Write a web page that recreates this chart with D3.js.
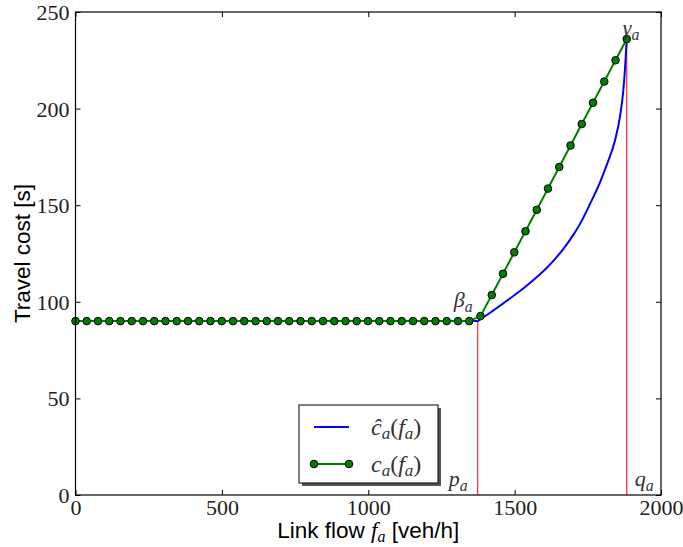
<!DOCTYPE html>
<html>
<head>
<meta charset="utf-8">
<script src="https://cdn.jsdelivr.net/npm/d3@7"></script>
<style>
  html, body { margin: 0; padding: 0; background: #fff; }
  svg { display: block; }
  .tick text { font-family: "Liberation Serif", "DejaVu Serif", serif; font-size: 22px; fill: #222; }
  .axis-title { font-family: "Liberation Sans", Arial, sans-serif; font-size: 22.5px; fill: #000; }
  .math { font-family: "Liberation Serif", "DejaVu Serif", serif; font-style: italic; fill: #333; }
</style>
</head>
<body>
<svg id="chart" width="683" height="547"></svg>
<script>
// Link flow samples (veh/h) where the piecewise-linear cost c_a is evaluated
const flowSamples = [
  0, 38.4, 76.9, 115.3, 153.7, 192.1, 230.6, 269.0, 307.4, 345.9,
  384.3, 422.7, 461.1, 499.6, 538.0, 576.4, 614.9, 653.3, 691.7, 730.1,
  768.6, 807.0, 845.4, 883.9, 922.3, 960.7, 999.1, 1037.6, 1076.0, 1114.4,
  1152.9, 1191.3, 1229.7, 1268.1, 1306.6, 1345.0, 1383.4, 1421.9, 1460.3, 1498.7,
  1537.1, 1575.6, 1614.0, 1652.4, 1690.9, 1729.3, 1767.7, 1806.1, 1844.6, 1883.0
];
// c_a(f_a): travel cost (s) at those flows
const costLinear = [
  90, 90, 90, 90, 90, 90, 90, 90, 90, 90,
  90, 90, 90, 90, 90, 90, 90, 90, 90, 90,
  90, 90, 90, 90, 90, 90, 90, 90, 90, 90,
  90, 90, 90, 90, 90, 90, 92.6, 103.5, 114.5, 125.6,
  136.5, 147.6, 158.6, 169.8, 180.9, 192.0, 203.0, 214.0, 225.0, 236.0
];
// ĉ_a(f_a): constant up to p_a, then a convex rise to q_a
const smoothFlow = [0, 1374, 1420, 1461, 1500, 1541, 1580, 1610, 1640, 1666,
                    1700, 1723, 1757, 1792, 1815, 1843, 1860, 1871, 1877, 1883];
const smoothCost = [90, 90, 94.7, 99.2, 103.5, 108.3, 113.3, 117.6, 122.5, 127.3,
                    134.5, 140.2, 150.5, 162.0, 171.0, 183.6, 196.0, 209.0, 220.5, 236];
// Breakpoints p_a and q_a
const pFlow = 1374, pCost = 90;
const qFlow = 1883, qCost = 236;
const xTicks = [0, 500, 1000, 1500, 2000];
const yTicks = [0, 50, 100, 150, 200, 250];

const svg = d3.select("#chart");
const plotL = 75.5, plotR = 661, plotT = 12, plotB = 495;
const x = d3.scaleLinear().domain([0, 2000]).range([plotL, plotR]);
const y = d3.scaleLinear().domain([0, 250]).range([plotB, plotT]);

// ticks on all four sides, pointing inward
const tickLen = 5;
const gx = svg.append("g").attr("transform", `translate(0,${plotB})`)
  .call(d3.axisBottom(x).tickValues(xTicks).tickFormat(d3.format("d"))
    .tickSizeInner(-tickLen).tickSizeOuter(0).tickPadding(4));
const gy = svg.append("g").attr("transform", `translate(${plotL},0)`)
  .call(d3.axisLeft(y).tickValues(yTicks).tickFormat(d3.format("d"))
    .tickSizeInner(-tickLen).tickSizeOuter(0).tickPadding(6));
const gxt = svg.append("g").attr("transform", `translate(0,${plotT})`)
  .call(d3.axisTop(x).tickValues(xTicks).tickFormat("").tickSizeInner(-tickLen).tickSizeOuter(0));
const gyr = svg.append("g").attr("transform", `translate(${plotR},0)`)
  .call(d3.axisRight(y).tickValues(yTicks).tickFormat("").tickSizeInner(-tickLen).tickSizeOuter(0));
[gx, gy, gxt, gyr].forEach(g => {
  g.select(".domain").remove();
  g.selectAll(".tick line").attr("stroke", "#000").attr("stroke-width", 1);
});
gx.selectAll(".tick text").attr("dy", "0.72em");
gy.selectAll(".tick text").attr("dy", "0.34em");

// red guides at p_a and q_a
svg.append("line").attr("x1", x(pFlow)).attr("x2", x(pFlow))
  .attr("y1", y(0)).attr("y2", y(pCost)).attr("stroke", "#ff0000").attr("stroke-width", 1);
svg.append("line").attr("x1", x(qFlow)).attr("x2", x(qFlow))
  .attr("y1", y(0)).attr("y2", y(qCost)).attr("stroke", "#ff0000").attr("stroke-width", 1);

// smooth cost curve: straight constant part, then a monotone curve from p_a onward
const smoothData = smoothFlow.map((f, i) => [f, smoothCost[i]]);
const flatPart = smoothData.filter(d => d[0] <= pFlow);
const risePart = smoothData.filter(d => d[0] >= pFlow);
svg.append("path").datum(flatPart)
  .attr("fill", "none").attr("stroke", "#0000ff").attr("stroke-width", 2)
  .attr("d", d3.line().x(d => x(d[0])).y(d => y(d[1])));
svg.append("path").datum(risePart)
  .attr("fill", "none").attr("stroke", "#0000ff").attr("stroke-width", 2)
  .attr("d", d3.line().x(d => x(d[0])).y(d => y(d[1])).curve(d3.curveMonotoneX));

// piecewise-linear cost with markers
const linData = flowSamples.map((f, i) => [f, costLinear[i]]);
svg.append("path").datum(linData)
  .attr("fill", "none").attr("stroke", "#008000").attr("stroke-width", 2)
  .attr("d", d3.line().x(d => x(d[0])).y(d => y(d[1])));
svg.append("g").selectAll("circle").data(linData).join("circle")
  .attr("cx", d => x(d[0])).attr("cy", d => y(d[1])).attr("r", 3.8)
  .attr("fill", "#008000").attr("stroke", "#000").attr("stroke-width", 1);

// frame
svg.append("rect").attr("x", plotL).attr("y", plotT)
  .attr("width", plotR - plotL).attr("height", plotB - plotT)
  .attr("fill", "none").attr("stroke", "#000").attr("stroke-width", 1.2);

// math label helper: italic symbol with italic subscript
function mathLabel(g, px, py, size, base) {
  const t = g.append("text").attr("class", "math").attr("x", px).attr("y", py)
    .attr("font-size", size);
  t.append("tspan").text(base);
  t.append("tspan").attr("font-size", size * 0.72).attr("dy", size * 0.22).text("a");
  return t;
}
mathLabel(svg, x(pFlow) - 24, y(pCost) - 14, 22, "β");
mathLabel(svg, x(qFlow) - 4, y(qCost) - 4, 22, "γ");
mathLabel(svg, x(pFlow) - 29, plotB - 9, 22, "p");
mathLabel(svg, x(qFlow) + 8, plotB - 9, 22, "q");

// axis titles
const xt = svg.append("text").attr("class", "axis-title")
  .attr("x", (plotL + plotR) / 2).attr("y", 538).attr("text-anchor", "middle");
xt.append("tspan").text("Link flow ");
xt.append("tspan").attr("font-family", "Liberation Serif, serif").attr("font-style", "italic").attr("font-size", 23).text("f");
xt.append("tspan").attr("font-family", "Liberation Serif, serif").attr("font-style", "italic").attr("font-size", 16).attr("dy", 4).text("a");
xt.append("tspan").attr("dy", -4).text(" [veh/h]");

svg.append("text").attr("class", "axis-title")
  .attr("transform", `translate(30,${(plotT + plotB) / 2}) rotate(-90)`)
  .attr("text-anchor", "middle").text("Travel cost [s]");

// legend
const lg = svg.append("g").attr("transform", "translate(299,405)");
lg.append("rect").attr("x", 3).attr("y", 3).attr("width", 139).attr("height", 78).attr("fill", "#555");
lg.append("rect").attr("x", 0).attr("y", 0).attr("width", 139).attr("height", 78)
  .attr("fill", "#fff").attr("stroke", "#000").attr("stroke-width", 1);
lg.append("line").attr("x1", 15).attr("x2", 50).attr("y1", 22).attr("y2", 22)
  .attr("stroke", "#0000ff").attr("stroke-width", 2);
lg.append("line").attr("x1", 15).attr("x2", 50).attr("y1", 59).attr("y2", 59)
  .attr("stroke", "#008000").attr("stroke-width", 2);
[15, 50].forEach(cx => lg.append("circle").attr("cx", cx).attr("cy", 59).attr("r", 3.8)
  .attr("fill", "#008000").attr("stroke", "#000").attr("stroke-width", 1));

function legendMath(g, px, py, base) {
  const t = g.append("text").attr("class", "math").attr("x", px).attr("y", py).attr("font-size", 24).attr("fill", "#222");
  t.append("tspan").text(base);
  t.append("tspan").attr("font-size", 17).attr("dy", 4).text("a");
  t.append("tspan").attr("dy", -4).attr("font-style", "normal").text("(");
  t.append("tspan").text("f");
  t.append("tspan").attr("font-size", 17).attr("dy", 4).text("a");
  t.append("tspan").attr("dy", -4).attr("font-style", "normal").text(")");
}
legendMath(lg, 72, 30, "ĉ");
legendMath(lg, 72, 67, "c");
</script>
</body>
</html>
